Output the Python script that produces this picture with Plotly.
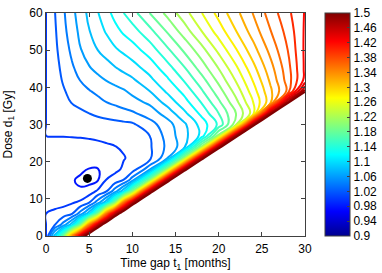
import plotly.graph_objects as go

# ---- data ----
t_months = [0, 1, 2, 3, 4, 5, 6, 7, 8, 9, 10, 12, 14, 16, 18, 20, 22, 24, 26, 28, 30]
dose_gy = [0, 3, 6, 9, 12, 15, 18, 21, 24, 27, 30, 33, 36, 39, 42, 45, 50, 55, 60]

# estimated field value at each dose row (one value per time column)
z_d00 = [1.0, 1.091, 1.18, 1.337, 1.454, 1.546, 1.637, 1.728, 1.819, 1.91, 2.0, 2.2, 2.2, 2.2, 2.2, 2.2, 2.2, 2.2, 2.2, 2.2, 2.2]
z_d03 = [1.0, 1.019, 1.049, 1.092, 1.183, 1.341, 1.456, 1.548, 1.639, 1.73, 1.822, 2.004, 2.2, 2.2, 2.2, 2.2, 2.2, 2.2, 2.2, 2.2, 2.2]
z_d06 = [1.0, 1.002, 1.008, 1.019, 1.050, 1.093, 1.185, 1.345, 1.459, 1.550, 1.642, 1.824, 2.006, 2.2, 2.2, 2.2, 2.2, 2.2, 2.2, 2.2, 2.2]
z_d09 = [1.0, 0.997, 0.995, 0.998, 1.004, 1.020, 1.051, 1.094, 1.188, 1.349, 1.461, 1.644, 1.826, 2.009, 2.2, 2.2, 2.2, 2.2, 2.2, 2.2, 2.2]
z_d12 = [1.0, 0.995, 0.990, 0.986, 0.983, 0.990, 1.004, 1.020, 1.052, 1.095, 1.191, 1.464, 1.646, 1.829, 2.011, 2.2, 2.2, 2.2, 2.2, 2.2, 2.2]
z_d15 = [1.0, 0.994, 0.988, 0.982, 0.976, 0.973, 0.979, 1.0015, 1.0085, 1.021, 1.052, 1.193, 1.466, 1.649, 1.831, 2.014, 2.2, 2.2, 2.2, 2.2, 2.2]
z_d18 = [1.0, 0.995, 0.990, 0.986, 0.984, 0.9795, 0.9795, 0.987, 0.995, 1.003, 1.009, 1.053, 1.196, 1.469, 1.651, 1.834, 2.016, 2.2, 2.2, 2.2, 2.2]
z_d21 = [1.0, 0.996, 0.992, 0.989, 0.987, 0.986, 0.987, 0.990, 0.994, 0.999, 1.004, 1.015, 1.054, 1.199, 1.471, 1.654, 1.836, 2.018, 2.2, 2.2, 2.2]
z_d24 = [1.0, 0.997, 0.995, 0.994, 0.9935, 0.994, 0.995, 0.997, 0.9995, 1.002, 1.005, 1.017, 1.044, 1.071, 1.202, 1.473, 1.656, 1.838, 2.021, 2.2, 2.2]
z_d27 = [1.0, 1.0003, 1.0006, 1.001, 1.0015, 1.0025, 1.004, 1.006, 1.008, 1.011, 1.014, 1.020, 1.047, 1.073, 1.105, 1.207, 1.476, 1.658, 1.841, 2.023, 2.2]
z_d30 = [1.0, 1.002, 1.004, 1.006, 1.008, 1.0095, 1.011, 1.0125, 1.014, 1.0155, 1.017, 1.032, 1.051, 1.076, 1.108, 1.144, 1.212, 1.478, 1.661, 1.843, 2.026]
z_d33 = [1.0, 1.004, 1.008, 1.012, 1.016, 1.020, 1.024, 1.027, 1.030, 1.033, 1.037, 1.049, 1.068, 1.095, 1.125, 1.160, 1.200, 1.249, 1.481, 1.663, 1.846]
z_d36 = [1.0, 1.007, 1.014, 1.021, 1.026, 1.031, 1.035, 1.040, 1.044, 1.049, 1.053, 1.064, 1.087, 1.112, 1.141, 1.176, 1.214, 1.260, 1.313, 1.483, 1.666]
z_d39 = [1.0, 1.009, 1.018, 1.026, 1.032, 1.039, 1.044, 1.049, 1.054, 1.058, 1.065, 1.080, 1.103, 1.126, 1.157, 1.191, 1.228, 1.271, 1.316, 1.364, 1.486]
z_d42 = [1.0, 1.011, 1.022, 1.032, 1.041, 1.048, 1.055, 1.061, 1.066, 1.072, 1.077, 1.095, 1.116, 1.142, 1.172, 1.206, 1.242, 1.282, 1.324, 1.369, 1.426]
z_d45 = [1.0, 1.0125, 1.025, 1.037, 1.047, 1.058, 1.065, 1.071, 1.078, 1.084, 1.091, 1.107, 1.130, 1.157, 1.188, 1.220, 1.255, 1.293, 1.332, 1.372, 1.424]
z_d50 = [1.0, 1.015, 1.030, 1.044, 1.059, 1.070, 1.080, 1.088, 1.097, 1.104, 1.111, 1.129, 1.155, 1.183, 1.212, 1.245, 1.278, 1.312, 1.346, 1.380, 1.424]
z_d55 = [1.0, 1.017, 1.034, 1.050, 1.065, 1.079, 1.091, 1.102, 1.113, 1.123, 1.131, 1.153, 1.181, 1.209, 1.239, 1.269, 1.299, 1.329, 1.359, 1.387, 1.423]
z_d60 = [1.0, 1.019, 1.037, 1.054, 1.070, 1.085, 1.099, 1.113, 1.127, 1.140, 1.152, 1.180, 1.205, 1.232, 1.259, 1.287, 1.314, 1.341, 1.369, 1.395, 1.4215]

# marked optimum point
dot_t = [4.8]
dot_d = [15.5]

# contour levels and colour bar ticks
level_start, level_end, level_step = 0.9, 1.5, 0.02
cbar_ticks = [0.9, 0.94, 0.98, 1.02, 1.06, 1.1, 1.14, 1.18, 1.22, 1.26, 1.3, 1.34, 1.38, 1.42, 1.46, 1.5]

# ---- figure ----
z_grid = [z_d00, z_d03, z_d06, z_d09, z_d12, z_d15, z_d18, z_d21, z_d24, z_d27,
          z_d30, z_d33, z_d36, z_d39, z_d42, z_d45, z_d50, z_d55, z_d60]

jet = [[0.0, "rgb(0,0,143)"], [0.111, "rgb(0,0,255)"], [0.365, "rgb(0,255,255)"],
       [0.619, "rgb(255,255,0)"], [0.873, "rgb(255,0,0)"], [1.0, "rgb(128,0,0)"]]

FONT = "Liberation Sans, Arial, Helvetica, sans-serif"
AX = "#404040"
FS = 12

fig = go.Figure()
fig.add_trace(go.Contour(
    x=t_months, y=dose_gy, z=z_grid,
    autocontour=False,
    contours=dict(coloring="lines", start=level_start, end=level_end + 1e-4, size=level_step),
    line=dict(width=2, smoothing=1.3),
    colorscale=jet, showscale=False, hoverinfo="skip",
))
fig.add_trace(go.Scatter(
    x=dot_t, y=dot_d, mode="markers",
    marker=dict(color="black", size=9),
    showlegend=False, hoverinfo="skip",
))
# colour bar carrier (invisible markers outside the visible range)
fig.add_trace(go.Scatter(
    x=[-10, -10], y=[-10, -10], mode="markers",
    marker=dict(color=[level_start, level_end], colorscale=jet, cmin=level_start, cmax=level_end,
                size=1, opacity=0, showscale=True,
                colorbar=dict(
                    x=1.077, xanchor="left", xpad=0, y=0.5, yanchor="middle", ypad=0,
                    len=1, lenmode="fraction", thickness=25, thicknessmode="pixels",
                    outlinewidth=1, outlinecolor=AX,
                    tickmode="array", tickvals=cbar_ticks,
                    ticktext=[f"{v:g}" for v in cbar_ticks],
                    ticks="inside", ticklen=3, tickcolor=AX,
                    tickfont=dict(family=FONT, size=FS, color="black"),
                )),
    showlegend=False, hoverinfo="skip",
))

fig.update_layout(
    width=382, height=273,
    margin=dict(l=46, r=77, t=13, b=37, autoexpand=False),
    paper_bgcolor="white", plot_bgcolor="white",
    font=dict(family=FONT, size=FS, color="black"),
    showlegend=False,
    xaxis=dict(range=[0, 30], tickmode="linear", tick0=0, dtick=5,
               ticks="inside", ticklen=4, tickcolor=AX,
               showline=True, linecolor=AX, linewidth=1, mirror="ticks",
               showgrid=False, zeroline=False, ticklabelstandoff=2,
               tickfont=dict(family=FONT, size=FS, color="black"),
               title=dict(text="Time gap t<sub>1</sub> [months]", standoff=0,
                          font=dict(family=FONT, size=FS, color="black"))),
    yaxis=dict(range=[0, 60], tickmode="linear", tick0=0, dtick=10,
               ticks="inside", ticklen=4, tickcolor=AX,
               showline=True, linecolor=AX, linewidth=1, mirror="ticks",
               showgrid=False, zeroline=False,
               tickfont=dict(family=FONT, size=FS, color="black"),
               title=dict(text="Dose d<sub>1</sub> [Gy]", standoff=14,
                          font=dict(family=FONT, size=FS, color="black"))),
)

fig.write_html("out.html",
               config={"displayModeBar": False, "staticPlot": True},
               post_script="document.body.style.margin='0';document.body.style.padding='0';")
